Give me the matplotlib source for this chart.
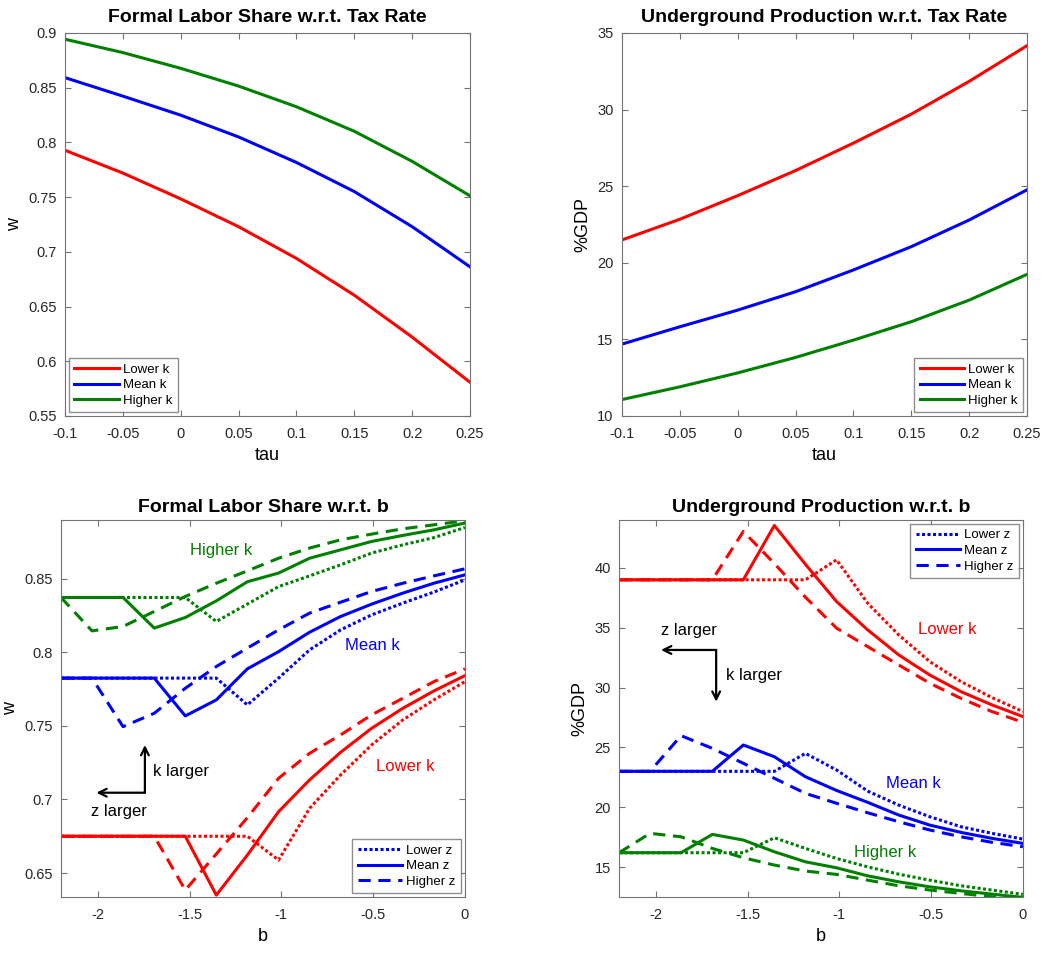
import matplotlib
matplotlib.use("Agg")
import matplotlib.pyplot as plt

plt.rcParams['font.family'] = ['Liberation Sans', 'DejaVu Sans']
plt.rcParams['axes.unicode_minus'] = False

# --- data ---
tau = [-0.1, -0.05, 0.0, 0.05, 0.1, 0.15, 0.2, 0.25]
w_tau_low = [0.7928, 0.7720, 0.7484, 0.7230, 0.6940, 0.6604, 0.6221, 0.5808]
w_tau_mean = [0.8592, 0.8423, 0.8249, 0.8050, 0.7817, 0.7551, 0.7230, 0.6863]
w_tau_high = [0.8943, 0.8821, 0.8677, 0.8515, 0.8326, 0.8102, 0.7827, 0.7512]
gdp_tau_low = [21.49, 22.84, 24.38, 26.02, 27.81, 29.70, 31.84, 34.17]
gdp_tau_mean = [14.69, 15.82, 16.91, 18.11, 19.53, 21.05, 22.79, 24.76]
gdp_tau_high = [11.07, 11.90, 12.81, 13.82, 14.95, 16.15, 17.56, 19.24]

b = [-2.2, -2.031, -1.862, -1.692, -1.523, -1.354, -1.185,
     -1.015, -0.846, -0.677, -0.508, -0.338, -0.169, 0.0]

# formal labor share vs b  (k level, z level)
w_b = {
    ('low', 'lowz'): [0.675, 0.675, 0.675, 0.675, 0.675, 0.675, 0.675,
                      0.6588, 0.694, 0.7167, 0.7371, 0.7541, 0.7677, 0.7801],
    ('low', 'meanz'): [0.675, 0.675, 0.675, 0.675, 0.675, 0.635, 0.6622,
                       0.6917, 0.7133, 0.7321, 0.7484, 0.762, 0.7738, 0.7842],
    ('low', 'highz'): [0.675, 0.675, 0.675, 0.675, 0.6384, 0.663, 0.6876,
                       0.7144, 0.7314, 0.7439, 0.7575, 0.7688, 0.7801, 0.7888],
    ('mean', 'lowz'): [0.7825, 0.7825, 0.7825, 0.7825, 0.7825, 0.7825, 0.7643,
                       0.7825, 0.8017, 0.8153, 0.8255, 0.8335, 0.841, 0.8493],
    ('mean', 'meanz'): [0.7825, 0.7825, 0.7825, 0.7825, 0.7568, 0.7677, 0.7888,
                        0.8005, 0.8137, 0.8244, 0.8328, 0.8403, 0.847, 0.8527],
    ('mean', 'highz'): [0.7825, 0.7825, 0.7495, 0.7586, 0.7756, 0.7904, 0.8029,
                        0.8153, 0.8267, 0.8341, 0.8414, 0.847, 0.852, 0.8568],
    ('high', 'lowz'): [0.8373, 0.8373, 0.8373, 0.8373, 0.8373, 0.821, 0.8328,
                       0.8447, 0.852, 0.8595, 0.8675, 0.8731, 0.878, 0.8849],
    ('high', 'meanz'): [0.8373, 0.8373, 0.8373, 0.8165, 0.8237, 0.835, 0.848,
                        0.8539, 0.864, 0.8697, 0.8754, 0.8795, 0.8833, 0.8879],
    ('high', 'highz'): [0.8373, 0.8146, 0.8176, 0.8278, 0.838, 0.847, 0.8554,
                        0.864, 0.8709, 0.8765, 0.8804, 0.884, 0.8867, 0.8895],
}

# underground production vs b
gdp_b = {
    ('low', 'lowz'): [39.0, 39.0, 39.0, 39.0, 39.0, 39.0, 39.0,
                      40.67, 37.05, 34.4, 32.17, 30.5, 29.16, 27.99],
    ('low', 'meanz'): [39.0, 39.0, 39.0, 39.0, 39.0, 43.54, 40.3,
                       37.18, 34.82, 32.73, 31.05, 29.66, 28.55, 27.57],
    ('low', 'highz'): [39.0, 39.0, 39.0, 39.0, 43.04, 40.36, 37.55,
                       34.96, 33.42, 31.89, 30.36, 29.1, 27.99, 27.1],
    ('mean', 'lowz'): [23.0, 23.0, 23.0, 23.0, 23.0, 23.0, 24.5,
                       23.11, 21.35, 20.18, 19.21, 18.37, 17.82, 17.34],
    ('mean', 'meanz'): [23.0, 23.0, 23.0, 23.0, 25.2, 24.22, 22.55,
                        21.4, 20.41, 19.35, 18.51, 17.9, 17.4, 16.98],
    ('mean', 'highz'): [23.0, 23.0, 25.98, 24.92, 23.67, 22.42, 21.16,
                        20.33, 19.54, 18.79, 18.1, 17.53, 17.07, 16.7],
    ('high', 'lowz'): [16.2, 16.2, 16.2, 16.2, 16.2, 17.45, 16.56,
                       15.72, 15.02, 14.41, 13.91, 13.44, 13.08, 12.72],
    ('high', 'meanz'): [16.2, 16.2, 16.2, 17.73, 17.26, 16.28, 15.44,
                        14.94, 14.27, 13.77, 13.35, 13.02, 12.74, 12.47],
    ('high', 'highz'): [16.2, 17.82, 17.53, 16.56, 15.78, 15.17, 14.67,
                        14.39, 13.91, 13.44, 13.08, 12.8, 12.52, 12.33],
}

k_levels = ['low', 'mean', 'high']
k_colors = {'low': '#ff0000', 'mean': '#0000ff', 'high': '#008000'}
k_names = ['Lower k', 'Mean k', 'Higher k']
z_levels = ['lowz', 'meanz', 'highz']
z_styles = {'lowz': (0, (1, 0.8)), 'meanz': '-', 'highz': (0, (4, 2.5))}
z_names = ['Lower z', 'Mean z', 'Higher z']

LW = 2.2
TITLE_FS = 14
LEG = dict(fontsize=9.5, frameon=True, fancybox=False, edgecolor='0.45',
           handlelength=3.4, borderaxespad=0.3, labelspacing=0.25, handletextpad=0.3)


def style_axes(ax):
    for s in ax.spines.values():
        s.set_color('0.45')
        s.set_linewidth(0.8)
    ax.tick_params(direction='in', top=True, right=True, length=4,
                   width=0.8, color='0.45', labelsize=10.5, labelcolor='0.15', pad=6)
    ax.tick_params(axis='x', pad=8)


fig = plt.figure(figsize=(10.46, 9.56), dpi=100)
ax1 = fig.add_axes([0.0621, 0.5649, 0.3872, 0.4006])
ax2 = fig.add_axes([0.5946, 0.5649, 0.3872, 0.4006])
ax3 = fig.add_axes([0.0583, 0.0617, 0.3862, 0.3944])
ax4 = fig.add_axes([0.5918, 0.0617, 0.3862, 0.3944])

# top-left
for series, c, name in zip([w_tau_low, w_tau_mean, w_tau_high], k_levels, k_names):
    ax1.plot(tau, series, color=k_colors[c], lw=LW, label=name)
ax1.set_xlim(-0.1, 0.25)
ax1.set_ylim(0.55, 0.9)
ax1.set_xticks([-0.1, -0.05, 0, 0.05, 0.1, 0.15, 0.2, 0.25])
ax1.set_xticklabels(['-0.1', '-0.05', '0', '0.05', '0.1', '0.15', '0.2', '0.25'])
ax1.set_yticks([0.55, 0.6, 0.65, 0.7, 0.75, 0.8, 0.85, 0.9])
ax1.set_yticklabels(['0.55', '0.6', '0.65', '0.7', '0.75', '0.8', '0.85', '0.9'])
ax1.set_title('Formal Labor Share w.r.t. Tax Rate', fontsize=TITLE_FS, fontweight='bold', pad=8)
ax1.set_xlabel('tau', fontsize=13, labelpad=4)
ax1.set_ylabel('w', fontsize=13)
ax1.legend(loc='lower left', **LEG)
style_axes(ax1)

# top-right
for series, c, name in zip([gdp_tau_low, gdp_tau_mean, gdp_tau_high], k_levels, k_names):
    ax2.plot(tau, series, color=k_colors[c], lw=LW, label=name)
ax2.set_xlim(-0.1, 0.25)
ax2.set_ylim(10, 35)
ax2.set_xticks([-0.1, -0.05, 0, 0.05, 0.1, 0.15, 0.2, 0.25])
ax2.set_xticklabels(['-0.1', '-0.05', '0', '0.05', '0.1', '0.15', '0.2', '0.25'])
ax2.set_yticks([10, 15, 20, 25, 30, 35])
ax2.set_title('Underground Production w.r.t. Tax Rate', fontsize=TITLE_FS, fontweight='bold', pad=8)
ax2.set_xlabel('tau', fontsize=13, labelpad=4)
ax2.set_ylabel('%GDP', fontsize=13)
ax2.legend(loc='lower right', **LEG)
style_axes(ax2)

# bottom panels
for ax, data in [(ax3, w_b), (ax4, gdp_b)]:
    handles = {}
    for k in k_levels:
        for z in z_levels:
            ln, = ax.plot(b, data[(k, z)], color=k_colors[k], lw=LW, linestyle=z_styles[z])
            if k == 'mean':
                handles[z] = ln
    ax.set_xlim(-2.2, 0)
    ax.set_xticks([-2, -1.5, -1, -0.5, 0])
    ax.set_xticklabels(['-2', '-1.5', '-1', '-0.5', '0'])
    ax.set_xlabel('b', fontsize=13, labelpad=4)
    style_axes(ax)
    leg_loc = 'lower right' if ax is ax3 else 'upper right'
    ax.legend([handles[z] for z in z_levels], z_names, loc=leg_loc, **LEG)

ax3.set_ylim(0.6337, 0.89)
ax3.set_yticks([0.65, 0.7, 0.75, 0.8, 0.85])
ax3.set_yticklabels(['0.65', '0.7', '0.75', '0.8', '0.85'])
ax3.set_ylabel('w', fontsize=13)
ax3.set_title('Formal Labor Share w.r.t. b', fontsize=TITLE_FS, fontweight='bold', pad=6)
ax3.text(-1.33, 0.8693, 'Higher k', color=k_colors['high'], fontsize=12, ha='center', va='center')
ax3.text(-0.505, 0.8047, 'Mean k', color=k_colors['mean'], fontsize=12, ha='center', va='center')
ax3.text(-0.327, 0.7223, 'Lower k', color=k_colors['low'], fontsize=12, ha='center', va='center')
arrow = dict(arrowstyle='->', lw=1.6, color='black', shrinkA=0, shrinkB=0, mutation_scale=14)
ax3.annotate('', xy=(-1.743, 0.737), xytext=(-1.743, 0.7046), arrowprops=arrow)
ax3.annotate('', xy=(-2.007, 0.7046), xytext=(-1.743, 0.7046), arrowprops=arrow)
ax3.text(-1.70, 0.7189, 'k larger', fontsize=12, ha='left', va='center')
ax3.text(-2.035, 0.6917, 'z larger', fontsize=12, ha='left', va='center')

ax4.set_ylim(12.5, 44)
ax4.set_yticks([15, 20, 25, 30, 35, 40])
ax4.set_ylabel('%GDP', fontsize=13)
ax4.set_title('Underground Production w.r.t. b', fontsize=TITLE_FS, fontweight='bold', pad=6)
ax4.text(-0.412, 34.87, 'Lower k', color=k_colors['low'], fontsize=12, ha='center', va='center')
ax4.text(-0.595, 22.0, 'Mean k', color=k_colors['mean'], fontsize=12, ha='center', va='center')
ax4.text(-0.753, 16.23, 'Higher k', color=k_colors['high'], fontsize=12, ha='center', va='center')
ax4.annotate('', xy=(-1.971, 33.14), xytext=(-1.671, 33.14), arrowprops=arrow)
ax4.annotate('', xy=(-1.671, 28.82), xytext=(-1.671, 33.14), arrowprops=arrow)
ax4.text(-1.82, 34.73, 'z larger', fontsize=12, ha='center', va='center')
ax4.text(-1.617, 30.97, 'k larger', fontsize=12, ha='left', va='center')

fig.savefig('out.png', dpi=100)
